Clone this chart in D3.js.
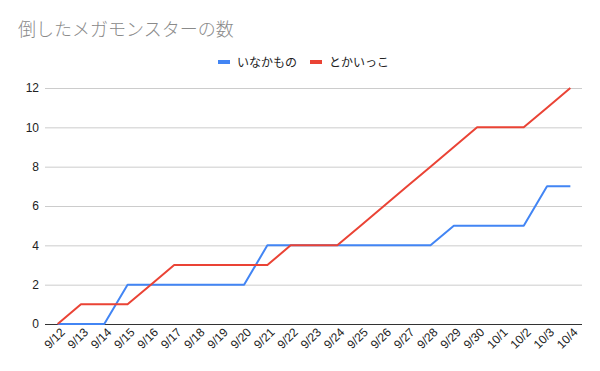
<!DOCTYPE html>
<html><head><meta charset="utf-8">
<script src="https://cdn.jsdelivr.net/npm/d3@7"></script>
<style>body{margin:0;background:#fff}svg{display:block}</style>
</head><body>
<script>
const categories = ["9/12","9/13","9/14","9/15","9/16","9/17","9/18","9/19","9/20","9/21","9/22","9/23","9/24","9/25","9/26","9/27","9/28","9/29","9/30","10/1","10/2","10/3","10/4"];
const inakamono = [0,0,0,2,2,2,2,2,2,4,4,4,4,4,4,4,4,5,5,5,5,7,7];
const tokaikko = [0,1,1,1,2,3,3,3,3,3,4,4,4,5,6,7,8,9,10,10,10,11,12];
const yTicks = [0,2,4,6,8,10,12];
const seriesNames = ["いなかもの","とかいっこ"];
const colors = ["#4285F4","#EA4335"];
const title = "倒したメガモンスターの数";

const W=600,H=371;
const svg=d3.select("body").append("svg").attr("width",W).attr("height",H);
const font="Arial, 'Liberation Sans', 'Noto Sans CJK JP', sans-serif";
const x=d3.scaleBand().domain(categories).range([46,582]);
const y=d3.scaleLinear().domain([0,12]).range([324,88]);

svg.append("text").attr("x",18).attr("y",36).attr("font-family",font).attr("font-size",18).attr("font-weight",300).attr("fill","#8a8a8a").text(title);

const yAxis=svg.append("g").attr("transform","translate(45,0)")
  .call(d3.axisLeft(y).tickValues(yTicks).tickSize(-537).tickPadding(6));
yAxis.select(".domain").remove();
yAxis.selectAll("line").attr("stroke","#cccccc");
yAxis.selectAll("text").attr("font-family",font).attr("font-size",12).attr("fill","#222");

const xAxis=svg.append("g").attr("transform","translate(0,324)")
  .call(d3.axisBottom(x).tickSize(0).tickPadding(0));
xAxis.select(".domain").attr("stroke","#333").attr("d","M45,0.5H582");
xAxis.selectAll("text").attr("font-family",font).attr("font-size",12).attr("fill","#222")
  .attr("text-anchor","end").attr("dy",null)
  .attr("transform","translate(8,9) rotate(-45)");

const line=d3.line().x((d,i)=>x(categories[i])+x.bandwidth()/2).y(d=>y(d));
[inakamono,tokaikko].forEach((s,k)=>{
  svg.append("path").datum(s).attr("d",line).attr("fill","none").attr("stroke",colors[k]).attr("stroke-width",2).attr("stroke-linejoin","round");
});

const lx=[218,310];
seriesNames.forEach((n,k)=>{
  svg.append("rect").attr("x",lx[k]).attr("y",60).attr("width",12).attr("height",4).attr("fill",colors[k]);
  svg.append("text").attr("x",lx[k]+19).attr("y",66.5).attr("font-family",font).attr("font-size",12).attr("fill","#222").text(n);
});
</script>
</body></html>
